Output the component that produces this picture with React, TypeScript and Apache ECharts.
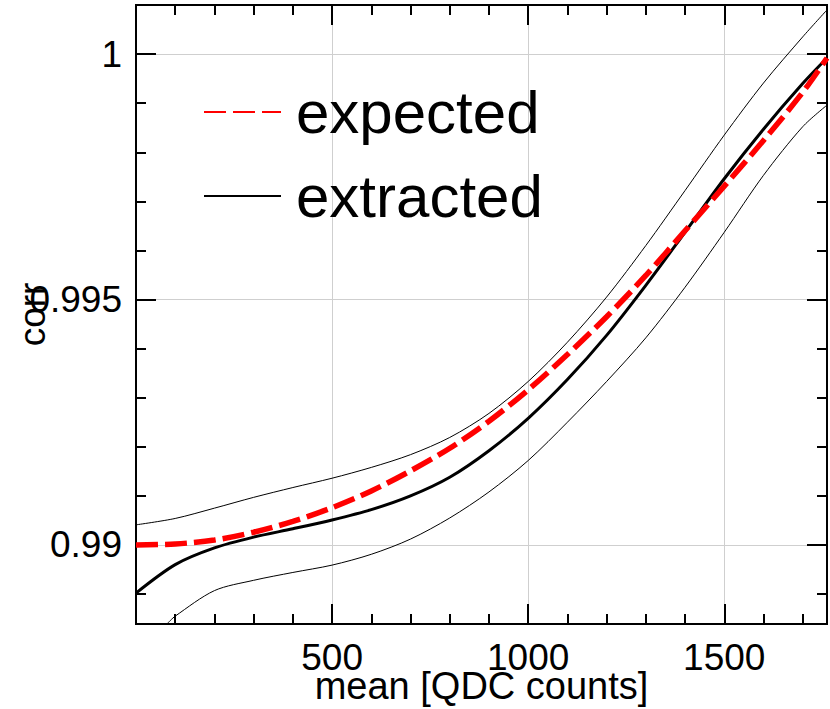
import React, { useEffect, useRef } from "react";
import * as echarts from "echarts";

// ---- data ----
const xValues = [0, 100, 200, 300, 400, 500, 600, 700, 800, 900, 1000, 1100, 1200, 1300, 1400, 1500, 1600, 1700, 1762];
const expectedValues = [0.99, 0.99002, 0.9901, 0.99026, 0.99048, 0.99076, 0.9911, 0.99151, 0.99197, 0.99252, 0.99316, 0.99388, 0.99465, 0.99549, 0.9964, 0.99731, 0.99824, 0.99922, 0.99992];
const extractedValues = [0.98902, 0.9896, 0.98994, 0.99016, 0.99033, 0.99051, 0.99072, 0.991, 0.99138, 0.99192, 0.99258, 0.99337, 0.99427, 0.99529, 0.99637, 0.99746, 0.99847, 0.9994, 0.99992];
const upperBandValues = [0.99041, 0.99054, 0.99075, 0.99097, 0.99117, 0.99136, 0.99158, 0.99184, 0.99219, 0.99268, 0.99333, 0.99413, 0.99505, 0.9961, 0.99722, 0.99835, 0.99941, 1.00035, 1.0009];
const lowerBandX = [80, 100, 200, 300, 400, 500, 600, 700, 800, 900, 1000, 1100, 1200, 1300, 1400, 1500, 1600, 1700, 1762];
const lowerBandValues = [0.9884, 0.98855, 0.98907, 0.98928, 0.98944, 0.98959, 0.98981, 0.99012, 0.99055, 0.99108, 0.99172, 0.9925, 0.99333, 0.99422, 0.99525, 0.99637, 0.99753, 0.99852, 0.99896];

const xMajorTicks = [500, 1000, 1500];
const xMinorTicks = [100, 200, 300, 400, 600, 700, 800, 900, 1100, 1200, 1300, 1400, 1600, 1700];
const yMajorTicks = [0.99, 0.995, 1];
const yMinorTicks = [0.989, 0.991, 0.992, 0.993, 0.994, 0.996, 0.997, 0.998, 0.999];

const X_MIN = 0;
const X_MAX = 1762;
const Y_MIN = 0.98839;
const Y_MAX = 1.001;

const FONT = "'Liberation Sans', Arial, Helvetica, sans-serif";
const AXIS_COLOR = "#000";
const GRID_COLOR = "#cfcfcf";

function pairs(xs: number[], ys: number[]) {
  return xs.map((x, i) => [x, ys[i]]);
}

function makeAxis(kind: "x" | "y", position: string, ticks: number[], tickLen: number, extra: any = {}) {
  return {
    type: "value",
    position,
    min: kind === "x" ? X_MIN : Y_MIN,
    max: kind === "x" ? X_MAX : Y_MAX,
    nameMoveOverlap: false,
    axisLine: { show: true, onZero: false, lineStyle: { color: AXIS_COLOR, width: 2 } },
    axisTick: {
      show: true,
      inside: true,
      length: tickLen,
      customValues: ticks,
      lineStyle: { color: AXIS_COLOR, width: 2 },
    },
    axisLabel: { show: false },
    splitLine: { show: false },
    ...extra,
  };
}

export default function App() {
  const ref = useRef<HTMLDivElement>(null);

  useEffect(() => {
    if (!ref.current) return;
    const chart = echarts.init(ref.current, null, { renderer: "svg" });

    const option: any = {
      animation: false,
      backgroundColor: "#fff",
      textStyle: { fontFamily: FONT },
      grid: {
        left: 136,
        top: 5,
        width: 691,
        height: 619,
        containLabel: false,
        outerBoundsMode: "none",
      },
      legend: {
        orient: "vertical",
        left: 198,
        top: 77,
        itemWidth: 77,
        itemHeight: 20,
        itemGap: 24,
        data: ["expected", "extracted"],
        itemStyle: { opacity: 0 },
        textStyle: {
          fontSize: 60,
          lineHeight: 60,
          color: "#000",
          fontFamily: FONT,
          padding: [0, 0, 0, 10],
        },
      },
      xAxis: [
        makeAxis("x", "bottom", xMajorTicks, 20, {
          name: "mean [QDC counts]",
          nameLocation: "middle",
          nameGap: 43,
          nameTextStyle: { fontSize: 38, lineHeight: 38, color: "#000", fontFamily: FONT },
          axisLabel: {
            show: true,
            customValues: xMajorTicks,
            formatter: (v: number) => String(v),
            fontSize: 37,
            color: "#000",
            margin: 15,
            fontFamily: FONT,
          },
          splitLine: { show: true, lineStyle: { color: GRID_COLOR, width: 1 } },
        }),
        makeAxis("x", "bottom", xMinorTicks, 10),
        makeAxis("x", "top", xMajorTicks, 20),
        makeAxis("x", "top", xMinorTicks, 10),
      ],
      yAxis: [
        makeAxis("y", "left", yMajorTicks, 20, {
          name: "corr",
          nameLocation: "middle",
          nameGap: 85,
          nameRotate: 90,
          nameTextStyle: { fontSize: 37, lineHeight: 37, color: "#000", fontFamily: FONT },
          axisLabel: {
            show: true,
            customValues: yMajorTicks,
            formatter: (v: number) => String(v),
            fontSize: 37,
            color: "#000",
            margin: 14,
            fontFamily: FONT,
          },
          splitLine: { show: true, lineStyle: { color: GRID_COLOR, width: 1 } },
        }),
        makeAxis("y", "left", yMinorTicks, 10),
        makeAxis("y", "right", yMajorTicks, 20),
        makeAxis("y", "right", yMinorTicks, 10),
      ],
      series: [
        {
          name: "upper",
          type: "line",
          xAxisIndex: 0,
          yAxisIndex: 0,
          data: pairs(xValues, upperBandValues),
          symbol: "none",
          smooth: 0.3,
          lineStyle: { color: "#000", width: 1 },
          z: 3,
        },
        {
          name: "lower",
          type: "line",
          xAxisIndex: 0,
          yAxisIndex: 0,
          data: pairs(lowerBandX, lowerBandValues),
          symbol: "none",
          smooth: 0.3,
          lineStyle: { color: "#000", width: 1 },
          z: 3,
        },
        {
          name: "extracted",
          type: "line",
          xAxisIndex: 0,
          yAxisIndex: 0,
          data: pairs(xValues, extractedValues),
          symbol: "none",
          smooth: 0.3,
          color: "#000",
          lineStyle: { color: "#000", width: 3 },
          z: 4,
        },
        {
          name: "expected",
          type: "line",
          xAxisIndex: 0,
          yAxisIndex: 0,
          data: pairs(xValues, expectedValues),
          symbol: "none",
          smooth: 0.3,
          color: "#ff0000",
          lineStyle: { color: "#ff0000", width: 5.5, type: [22, 7] },
          z: 5,
        },
      ],
    };

    chart.setOption(option);
    return () => chart.dispose();
  }, []);

  return (
    <div
      ref={ref}
      style={{ position: "absolute", left: 0, top: 0, width: 830, height: 709, background: "#fff" }}
    />
  );
}
